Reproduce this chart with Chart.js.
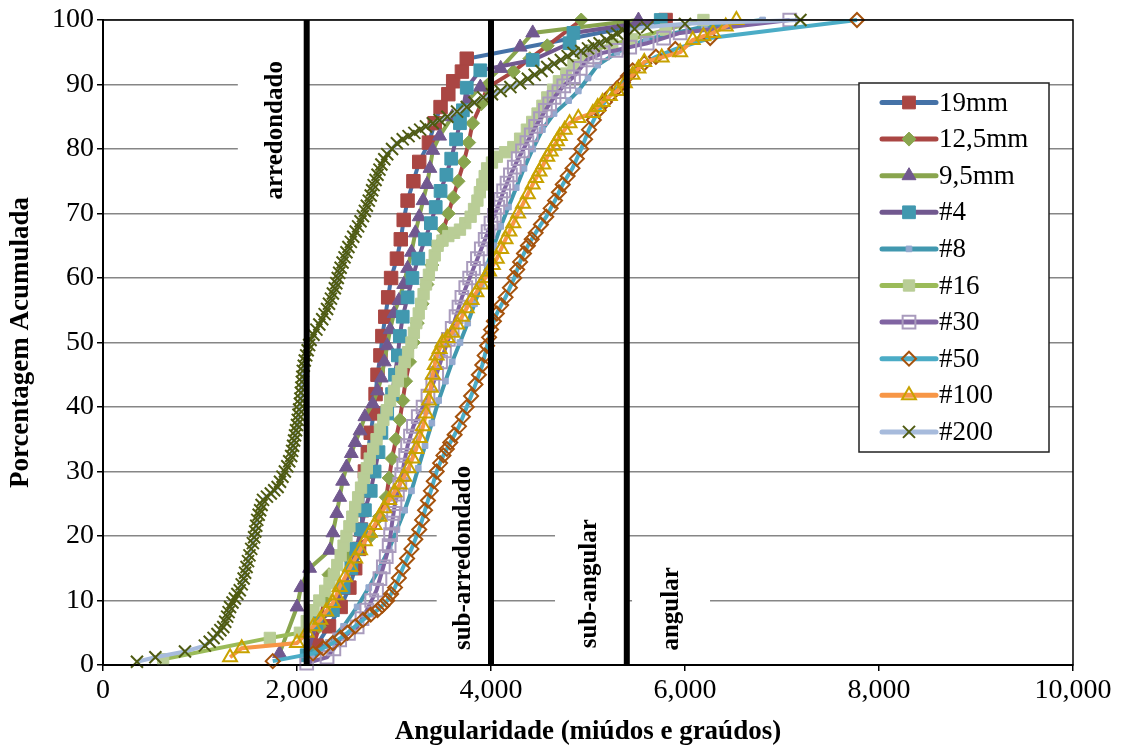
<!DOCTYPE html>
<html>
<head>
<meta charset="utf-8">
<script src="https://cdn.jsdelivr.net/npm/chart.js@4.4.1/dist/chart.umd.min.js"></script>
<style>
  html, body { margin: 0; padding: 0; background: #fff; }
  #wrap { width: 1121px; height: 749px; }
</style>
</head>
<body>
<div id="wrap"><canvas id="chart" width="1121" height="749"></canvas></div>
<script>
// series, in legend order
const seriesNames = ['19mm', '12,5mm', '9,5mm', '#4', '#8', '#16', '#30', '#50', '#100', '#200'];

// [angularidade, % acumulada]
const pts19mm = [[2200,3],[2330,6],[2450,9],[2540,12],[2600,15],[2640,18],[2660,21],[2670,24],[2680,27],[2700,30],[2730,33],[2760,36],[2790,39],[2810,42],[2830,45],[2860,48],[2880,51],[2910,54],[2940,57],[2970,60],[3030,63],[3070,66],[3100,69],[3140,72],[3200,75],[3260,78],[3360,81],[3420,84],[3480,86.5],[3560,88.5],[3610,90.5],[3700,92],[3750,94],[5800,100]];
const pts12_5mm = [[2150,2],[2230,6],[2280,10],[2330,14],[2500,17],[2760,20],[2850,23],[2920,26],[2950,29],[2980,32],[3020,35],[3060,38],[3090,41],[3120,44],[3160,47],[3200,50],[3240,53],[3290,56],[3340,59],[3390,62],[3450,65],[3510,67.5],[3560,70],[3610,72.5],[3660,75],[3720,78],[3770,81],[3810,84],[3900,87],[3960,89.5],[4230,92],[4400,94],[4580,96],[4930,100]];
const pts9_5mm = [[1820,1.8],[2000,9],[2040,12],[2130,15],[2340,17.8],[2370,20.5],[2410,23.5],[2440,26],[2470,28.5],[2510,30.7],[2560,32.8],[2600,34.5],[2650,36.3],[2700,38.5],[2780,40.5],[2830,42.5],[2870,44.5],[2900,47],[2930,49.5],[2960,52],[3000,54.5],[3050,56.5],[3100,59],[3140,61.5],[3180,64],[3220,67],[3260,69.5],[3300,72],[3340,74.5],[3370,77],[3400,79.8],[3470,82],[3600,85],[3760,87.5],[3890,89.6],[4100,92.5],[4300,95.8],[4430,98],[5520,100]];
const pts4 = [[2100,1.5],[2200,6.5],[2370,8.5],[2480,12],[2560,15],[2610,18],[2660,21],[2700,24],[2760,27],[2800,30],[2840,33],[2870,36],[2930,39],[2980,42],[3010,45],[3040,48],[3060,51],[3090,54],[3140,57],[3190,60],[3250,63],[3320,66],[3380,68.5],[3430,71],[3480,73.5],[3540,76],[3590,78.5],[3640,81.5],[3680,84],[3710,86],[3750,89.5],[3890,92.2],[4430,93.8],[4810,96.4],[4850,98],[5750,100]];
const pts8 = [[2150,1],[2320,3.5],[2480,6],[2620,9],[2740,12],[2850,15],[2950,18],[3030,21],[3110,24],[3180,27],[3250,30.5],[3320,34],[3390,37.5],[3460,41],[3530,44],[3600,47],[3680,50],[3760,53],[3830,56],[3900,59],[3960,62],[4030,65],[4100,68],[4180,71],[4260,74],[4340,77],[4430,80],[4530,83],[4650,85.5],[4800,87.5],[4900,89],[5000,91],[5100,93],[5300,95],[5600,97],[6200,99],[6800,100]];
const pts16 = [[620,0.9],[1720,4.2],[2030,5],[2100,6.8],[2170,8.5],[2230,10],[2290,11.5],[2335,12.7],[2380,14],[2415,15.5],[2450,17],[2480,18.5],[2510,20],[2540,21.5],[2570,23],[2600,24.5],[2630,26],[2660,27.5],[2690,29],[2720,30.5],[2750,32],[2785,33.5],[2820,35],[2855,36.5],[2890,38],[2925,39.5],[2960,41],[3000,42.5],[3040,44],[3075,45.5],[3110,47],[3145,48.5],[3180,50],[3205,51.5],[3230,53],[3255,54.5],[3280,56],[3305,57.5],[3330,59],[3360,60.5],[3390,62],[3420,63.5],[3450,65],[3500,65.8],[3560,66.5],[3620,67],[3680,67.5],[3735,68.5],[3790,69.5],[3825,70.7],[3860,72],[3885,73.3],[3910,74.5],[3935,75.8],[3960,77],[4010,77.9],[4060,78.8],[4145,79.5],[4230,80.3],[4300,81.6],[4370,83],[4425,84.2],[4480,85.5],[4530,86.7],[4580,88],[4640,89.2],[4700,90.5],[4775,91.7],[4850,93],[4950,94.2],[5050,95.3],[5250,96.2],[5450,97],[5800,98.5],[6190,100]];
const pts30 = [[2100,0.3],[2310,1.2],[2380,2.5],[2440,3.9],[2530,4.9],[2620,5.9],[2670,7.2],[2720,8.5],[2770,10],[2820,11.6],[2855,13.4],[2890,15.2],[2920,16.8],[2950,18.5],[2965,20.2],[2980,22],[2995,23.5],[3010,25],[3035,26.5],[3060,28],[3080,29.5],[3100,31],[3120,32.5],[3140,34],[3170,35.5],[3200,37],[3250,38.5],[3300,40],[3350,41.7],[3400,43.5],[3440,45.2],[3480,47],[3520,48.7],[3560,50.5],[3600,52.2],[3640,54],[3670,55.5],[3700,57],[3740,58.5],[3780,60],[3820,61.5],[3860,63],[3900,64.5],[3940,66],[3970,67.2],[4000,68.5],[4035,69.7],[4070,71],[4100,72.2],[4130,73.5],[4165,74.7],[4200,76],[4240,77.2],[4280,78.5],[4325,79.7],[4370,81],[4415,82.2],[4460,83.5],[4510,84.7],[4560,86],[4605,87],[4650,88],[4700,88.9],[4750,89.8],[4800,90.5],[4850,91.2],[4920,92.5],[4990,93.8],[5070,94.3],[5150,94.9],[5290,95.3],[5430,95.8],[5610,96.4],[5780,97.2],[5950,98],[7080,100]];
const pts50 = [[1750,0.6],[2165,1.8],[2270,2.6],[2370,3.4],[2450,4.2],[2520,5],[2600,6],[2680,7],[2760,7.8],[2830,8.5],[2880,9.2],[2930,10],[2970,11],[3010,12],[3050,13.5],[3090,15],[3135,16.5],[3180,18],[3220,19.5],[3260,21],[3290,22.5],[3320,24],[3350,25.5],[3380,27],[3410,28.5],[3440,30],[3475,31.3],[3510,32.5],[3545,33.5],[3580,34.5],[3625,35.7],[3670,37],[3710,38.5],[3750,40],[3795,41.7],[3840,43.5],[3875,45],[3910,46.5],[3935,48],[3960,49.5],[3980,50.8],[4000,52],[4030,53.3],[4060,54.5],[4105,55.8],[4150,57],[4195,58.5],[4240,60],[4270,61.3],[4300,62.5],[4340,63.8],[4380,65],[4420,66],[4460,67],[4515,68.3],[4570,69.5],[4615,70.8],[4660,72],[4700,73.3],[4740,74.5],[4790,75.8],[4840,77],[4885,78.5],[4930,80],[4970,81.5],[5010,83],[5060,84.5],[5110,86],[5175,87.3],[5240,88.5],[5300,89.4],[5360,90.3],[5410,91.3],[5460,92.2],[5580,93.3],[5700,94.3],[5900,95.5],[6260,97.2],[7773,100]];
const pts100 = [[1310,1.2],[1430,2.6],[2000,3.4],[2100,5],[2170,6],[2240,7],[2300,8.3],[2370,9.6],[2405,10.8],[2440,12.1],[2495,13.6],[2550,15.2],[2600,16.5],[2650,17.8],[2700,19.2],[2750,20.5],[2800,21.7],[2850,23],[2900,24.3],[2950,25.6],[3005,26.8],[3060,28],[3105,29.2],[3150,30.5],[3190,32],[3230,33.5],[3265,35.2],[3300,37],[3330,39],[3360,41],[3380,43],[3400,45],[3420,46.5],[3440,48],[3470,49],[3500,50],[3550,50.7],[3600,51.5],[3650,52.8],[3700,54],[3750,55.3],[3800,56.6],[3850,57.8],[3900,59],[3940,60],[3980,61],[4020,62],[4060,63],[4105,64.5],[4150,66],[4190,67.2],[4230,68.5],[4280,70],[4330,71.5],[4380,73],[4430,74.5],[4465,75.5],[4500,76.5],[4540,77.6],[4580,78.8],[4615,79.6],[4650,80.5],[4680,81.2],[4710,82],[4760,83],[4810,84],[4900,84.8],[5050,85.6],[5100,86.5],[5150,87.3],[5225,88.2],[5300,89],[5380,90.2],[5460,91.5],[5520,92.5],[5580,93.5],[5760,94.2],[5950,95],[6080,96.9],[6190,97.5],[6290,98],[6420,99],[6530,100]];
const pts200 = [[350,0.5],[540,1.2],[845,2.1],[1050,3],[1100,3.6],[1140,4.2],[1180,4.8],[1210,5.4],[1240,5.9],[1260,6.7],[1280,7.5],[1295,8.2],[1310,9],[1335,9.7],[1360,10.3],[1385,11],[1410,11.6],[1430,12.5],[1450,13.4],[1465,14.3],[1480,15.2],[1495,16.1],[1510,17],[1528,18],[1545,18.9],[1558,19.8],[1570,20.7],[1580,21.6],[1590,22.5],[1605,23.3],[1620,24],[1635,24.8],[1650,25.6],[1690,26.1],[1730,26.6],[1765,27.1],[1800,27.6],[1825,28.4],[1850,29.2],[1875,30],[1900,30.8],[1920,31.6],[1940,32.4],[1950,33.2],[1960,34],[1970,34.8],[1980,35.6],[1990,36.4],[2000,37.2],[2008,38],[2015,38.8],[2022,39.6],[2030,40.5],[2035,41.3],[2040,42.2],[2045,43],[2050,43.9],[2055,44.7],[2060,45.6],[2070,46.4],[2080,47.2],[2095,48],[2110,48.8],[2125,49.6],[2140,50.4],[2170,51.2],[2200,52],[2230,52.8],[2260,53.6],[2285,54.4],[2310,55.2],[2330,56],[2350,56.8],[2370,57.6],[2390,58.4],[2405,59.2],[2420,60],[2435,60.8],[2450,61.6],[2470,62.4],[2490,63.2],[2510,64],[2530,64.8],[2555,65.6],[2580,66.4],[2605,67.2],[2630,68],[2655,68.8],[2680,69.6],[2700,70.4],[2720,71.2],[2740,72],[2760,72.8],[2775,73.6],[2790,74.4],[2810,75.2],[2830,76],[2850,76.8],[2870,77.6],[2900,78.4],[2930,79.2],[2980,80],[3030,80.9],[3090,81.5],[3150,82],[3210,82.5],[3270,83],[3330,83.5],[3400,84],[3470,84.5],[3550,85],[3650,85.8],[3750,86.5],[3830,87.2],[3920,88],[4010,88.5],[4100,89],[4200,89.6],[4300,90.2],[4380,90.9],[4450,91.5],[4520,92.1],[4580,92.7],[4650,93.2],[4720,93.8],[4790,94.4],[4850,94.9],[4930,95.2],[5000,95.6],[5060,96],[5120,96.4],[5190,96.9],[5250,97.4],[5300,97.9],[5360,98.4],[5480,98.6],[5610,98.9],[6000,99.4],[7190,100]];

const allPoints = [pts19mm, pts12_5mm, pts9_5mm, pts4, pts8, pts16, pts30, pts50, pts100, pts200];

// class limits (vertical black lines) and class names
const zoneLimits = [2100, 4000, 5400];
const zoneNames = ['arredondado', 'sub-arredondado', 'sub-angular', 'angular'];

// look of each series (Excel-like: line colour and marker colour differ)
const lineColors   = ['#4572A7', '#AA4643', '#89A54E', '#71588F', '#4198AF', '#9BBB59', '#8064A2', '#4BACC6', '#F79646', '#A7BBDC'];
const markerColors = ['#AA4643', '#89A54E', '#71588F', '#4198AF', '#93A9CF', '#B9CD96', '#A99BBD', '#A5520C', '#C8A200', '#4F5B12'];
const markerStyles = ['rect', 'rectRot', 'triangle', 'rect', 'rect', 'rect', 'rect', 'rectRot', 'triangle', 'crossRot'];
const markerSizes  = [9.5, 7, 8, 9, 4, 8, 9, 7, 8, 8.5];
const markerHollow = [false, false, false, false, false, false, true, true, true, false];

const FONT = "'Liberation Serif', 'Times New Roman', serif";

// label boxes, in data units: [x0, x1, yTop, yBottom, textX, textY]
const zoneBoxes = [
  [1390, 2100, 94.6, 71.3, 1775, 82.9],
  [3440, 4000, 31.8, 1.6, 3722, 16.6],
  [4660, 5400, 23.7, 1.6, 5021, 12.6],
  [5454, 6258, 16.3, 1.6, 5866, 8.7]
];

const datasets = allPoints.map((pts, i) => ({
  label: seriesNames[i],
  data: pts.map(p => ({ x: p[0], y: p[1] })),
  borderColor: lineColors[i],
  borderWidth: 4,
  backgroundColor: markerColors[i],
  pointStyle: markerStyles[i],
  pointRadius: markerSizes[i],
  pointBackgroundColor: markerHollow[i] ? 'rgba(0,0,0,0)' : markerColors[i],
  pointBorderColor: markerColors[i],
  pointBorderWidth: markerHollow[i] || markerStyles[i] === 'crossRot' ? 2 : 1,
  tension: 0,
  clip: false,
  order: allPoints.length - i
}));

const zonePlugin = {
  id: 'zones',
  beforeDatasetsDraw(chart) {
    const { ctx, scales: { x, y } } = chart;
    ctx.save();
    zoneBoxes.forEach((b, i) => {
      const x0 = x.getPixelForValue(b[0]), x1 = x.getPixelForValue(b[1]);
      const y0 = y.getPixelForValue(b[2]), y1 = y.getPixelForValue(b[3]);
      ctx.fillStyle = '#fff';
      ctx.fillRect(x0, y0, x1 - x0, y1 - y0);
      ctx.save();
      ctx.translate(x.getPixelForValue(b[4]), y.getPixelForValue(b[5]));
      ctx.rotate(-Math.PI / 2);
      ctx.fillStyle = '#000';
      ctx.font = 'bold 25px ' + FONT;
      ctx.textAlign = 'center';
      ctx.textBaseline = 'middle';
      ctx.fillText(zoneNames[i], 0, 0);
      ctx.restore();
    });
    ctx.restore();
  },
  afterDatasetsDraw(chart) {
    const { ctx, chartArea: a, scales: { x } } = chart;
    ctx.save();
    ctx.strokeStyle = '#000';
    ctx.lineWidth = 6;
    zoneLimits.forEach(v => {
      const px = x.getPixelForValue(v);
      ctx.beginPath();
      ctx.moveTo(px, a.top);
      ctx.lineTo(px, a.bottom);
      ctx.stroke();
    });
    ctx.lineWidth = 1.5;
    ctx.strokeRect(a.left, a.top, a.right - a.left, a.bottom - a.top);
    ctx.restore();
  }
};

// legend drawn inside the plot, like the original
const legendPlugin = {
  id: 'boxLegend',
  afterDraw(chart) {
    const { ctx } = chart;
    const left = 859, top = 83, right = 1049, bottom = 452;
    ctx.save();
    ctx.fillStyle = '#fff';
    ctx.fillRect(left, top, right - left, bottom - top);
    ctx.strokeStyle = '#222';
    ctx.lineWidth = 1.5;
    ctx.strokeRect(left, top, right - left, bottom - top);
    chart.data.datasets.forEach((ds, i) => {
      const cy = 102.5 + i * 36.6;
      ctx.strokeStyle = ds.borderColor;
      ctx.lineWidth = 5;
      ctx.lineCap = 'round';
      ctx.beginPath();
      ctx.moveTo(882, cy);
      ctx.lineTo(936, cy);
      ctx.stroke();
      ctx.lineCap = 'butt';
      ctx.fillStyle = ds.pointBackgroundColor;
      ctx.strokeStyle = ds.pointBorderColor;
      ctx.lineWidth = ds.pointBorderWidth;
      if (Chart.helpers && Chart.helpers.drawPoint) {
        Chart.helpers.drawPoint(ctx, {
          pointStyle: ds.pointStyle,
          radius: Math.min(ds.pointRadius, 9),
          rotation: 0,
          borderWidth: ds.pointBorderWidth
        }, 909, cy);
      }
      ctx.fillStyle = '#000';
      ctx.font = '27px ' + FONT;
      ctx.textAlign = 'left';
      ctx.textBaseline = 'middle';
      ctx.fillText(ds.label, 939, cy + 1);
    });
    ctx.restore();
  }
};

new Chart(document.getElementById('chart'), {
  type: 'line',
  data: { datasets },
  options: {
    responsive: false,
    animation: false,
    devicePixelRatio: 1,
    layout: { padding: { left: 0, right: 48, top: 20, bottom: 0 } },
    plugins: {
      legend: { display: false },
      tooltip: { enabled: false }
    },
    scales: {
      x: {
        type: 'linear',
        min: 0,
        max: 10000,
        afterFit(scale) { scale.height = 84; },
        ticks: {
          stepSize: 2000,
          color: '#000',
          font: { family: FONT, size: 28 },
          padding: 3,
          maxRotation: 0,
          callback: v => v.toLocaleString('en-US')
        },
        grid: { drawOnChartArea: false, drawTicks: true, tickLength: 6, color: '#000', lineWidth: 1.5 },
        border: { display: true, color: '#000', width: 2 },
        title: {
          display: true,
          text: 'Angularidade (miúdos e graúdos)',
          color: '#000',
          font: { family: FONT, size: 27, weight: 'bold' },
          padding: { top: 0, bottom: 1 }
        }
      },
      y: {
        min: 0,
        max: 100,
        afterFit(scale) { scale.width = 103; },
        ticks: {
          stepSize: 10,
          color: '#000',
          font: { family: FONT, size: 28 },
          padding: 3
        },
        grid: { color: '#868686', lineWidth: 1.5, tickLength: 6, tickColor: '#000' },
        border: { display: true, color: '#000', width: 2 },
        title: {
          display: true,
          text: 'Porcentagem Acumulada',
          color: '#000',
          font: { family: FONT, size: 27, weight: 'bold' },
          padding: { top: 5, bottom: 0 }
        }
      }
    }
  },
  plugins: [zonePlugin, legendPlugin]
});
</script>
</body>
</html>
